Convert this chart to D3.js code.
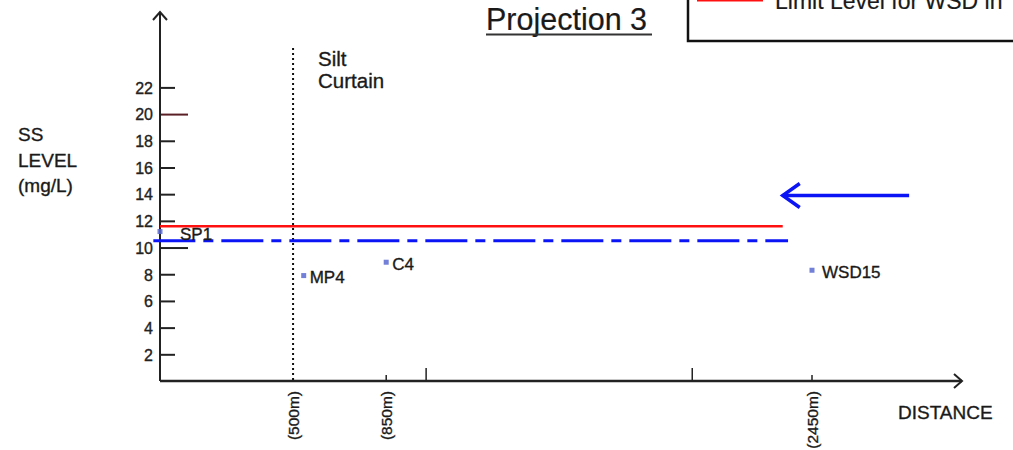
<!DOCTYPE html>
<html>
<head>
<meta charset="utf-8">
<script src="https://cdn.jsdelivr.net/npm/d3@7"></script>
<style>
  body { margin: 0; background: #fff; }
  svg { display: block; font-family: "Liberation Sans", Arial, sans-serif; }
  text { fill: #1a1a1a; stroke: #1a1a1a; stroke-width: 0.35px; }
</style>
</head>
<body>
<svg id="chart" width="1013" height="450"></svg>
<script>
(function (d3) {
    'use strict';

    // monitoring stations
    var stations = ['SP1', 'MP4', 'C4', 'WSD15'];
    var distances = [0, 540, 850, 2450];
    var ssLevels = [11.2, 7.9, 8.9, 8.3];

    // axis ticks
    var yTicks = [2, 4, 6, 8, 10, 12, 14, 16, 18, 20, 22];
    var xTickValues = [850, 1000, 2000, 2450];
    var xTickLabels = ['(500m)', '(850m)', '(2450m)'];
    var xLabelValues = [500, 850, 2450];

    // reference levels (mg/L) and distance extents (m)
    var limitLevel = 11.6, limitRange = [0, 2340];
    var actionLevel = 10.5, actionRange = [-25, 2360];
    var siltCurtain = 500;
    var arrowLevel = 13.9, arrowRange = [2340, 2815];

    var x = d3.scaleLinear().domain([0, 2450]).range([160, 812]),
        y = d3.scaleLinear().domain([0, 22]).range([381, 87.4]);

    var svg = d3.select('#chart');

    // title
    svg.append('text')
        .attr('x', 486).attr('y', 30)
        .style('font-size', '30.5px')
        .style('stroke-width', '0.2px')
        .text('Projection 3');
    svg.append('line')
        .attr('x1', 486).attr('x2', 652).attr('y1', 34.5).attr('y2', 34.5)
        .style('stroke', '#333').style('stroke-width', 2);

    // legend box (cut off at top)
    svg.append('rect')
        .attr('x', 688).attr('y', -20).attr('width', 340).attr('height', 61)
        .style('fill', 'none').style('stroke', '#111').style('stroke-width', 2.5);
    svg.append('line')
        .attr('x1', 697).attr('x2', 763).attr('y1', 0).attr('y2', 0)
        .style('stroke', '#ff1010').style('stroke-width', 3);
    svg.append('text')
        .attr('x', 775).attr('y', 9)
        .style('font-size', '23px')
        .style('stroke-width', '0.2px')
        .text('Limit Level for WSD in');

    // y axis
    var yAxis = svg.append('g')
        .attr('transform', 'translate(160,0)')
        .call(d3.axisLeft(y).tickValues(yTicks).tickSize(-15).tickPadding(7));
    yAxis.select('.domain').remove();
    yAxis.selectAll('.tick line')
        .style('stroke', function (d) { return d === 20 ? '#5a1f24' : '#222'; })
        .style('stroke-width', 2)
        .attr('x2', function (d) { return (d === 10 || d === 20) ? 28 : 15; });
    yAxis.selectAll('.tick text')
        .style('font-size', '16px')
        .style('fill', '#222')
        .style('stroke', '#222')
        .style('stroke-width', '0.35px')
        .attr('dy', '0.36em');

    svg.append('line')
        .attr('x1', 160).attr('x2', 160).attr('y1', 381).attr('y2', 12)
        .style('stroke', '#222').style('stroke-width', 2);
    svg.append('path')
        .attr('d', 'M153,20 L160,12 L167,20')
        .style('fill', 'none').style('stroke', '#222').style('stroke-width', 2);

    // x axis
    svg.append('line')
        .attr('x1', 160).attr('x2', 962).attr('y1', 381).attr('y2', 381)
        .style('stroke', '#222').style('stroke-width', 2.5);
    svg.append('path')
        .attr('d', 'M954,374 L962,381 L954,388')
        .style('fill', 'none').style('stroke', '#222').style('stroke-width', 2);

    svg.append('g').selectAll('line')
        .data(xTickValues)
        .enter().append('line')
        .attr('x1', function (d) { return x(d); })
        .attr('x2', function (d) { return x(d); })
        .attr('y1', 381)
        .attr('y2', function (d) { return (d === 1000 || d === 2000) ? 368 : 375; })
        .style('stroke', '#222').style('stroke-width', 1.5);

    svg.append('g').selectAll('text')
        .data(xLabelValues)
        .enter().append('text')
        .attr('transform', function (d) { return 'translate(' + (x(d) + 6) + ',391) rotate(-90)'; })
        .style('text-anchor', 'end')
        .style('font-size', '15.5px')
        .text(function (d, i) { return xTickLabels[i]; });

    // axis titles
    svg.append('g').selectAll('text')
        .data(['SS', 'LEVEL', '(mg/L)'])
        .enter().append('text')
        .attr('x', 18)
        .attr('y', function (d, i) { return 141 + i * 25.5; })
        .style('font-size', '19px')
        .text(function (d) { return d; });

    svg.append('text')
        .attr('x', 898).attr('y', 419)
        .style('font-size', '19px')
        .text('DISTANCE');

    // silt curtain
    svg.append('line')
        .attr('x1', x(siltCurtain)).attr('x2', x(siltCurtain))
        .attr('y1', 48).attr('y2', 381)
        .style('stroke', '#111').style('stroke-width', 2)
        .style('stroke-dasharray', '2,3');
    svg.append('g').selectAll('text')
        .data(['Silt', 'Curtain'])
        .enter().append('text')
        .attr('x', 318)
        .attr('y', function (d, i) { return 66 + i * 22; })
        .style('font-size', '20.5px')
        .text(function (d) { return d; });

    // reference lines
    svg.append('line')
        .attr('x1', x(limitRange[0])).attr('x2', x(limitRange[1]))
        .attr('y1', y(limitLevel)).attr('y2', y(limitLevel))
        .style('stroke', '#ff1010').style('stroke-width', 2.5);
    svg.append('line')
        .attr('x1', x(actionRange[0])).attr('x2', x(actionRange[1]))
        .attr('y1', y(actionLevel)).attr('y2', y(actionLevel))
        .style('stroke', '#0a14f5').style('stroke-width', 3)
        .style('stroke-dasharray', '42,8,10,8');

    // pointer arrow
    var ay = y(arrowLevel), ax = x(arrowRange[0]);
    svg.append('line')
        .attr('x1', x(arrowRange[1])).attr('x2', ax)
        .attr('y1', ay).attr('y2', ay)
        .style('stroke', '#0a14f5').style('stroke-width', 3.5);
    svg.append('path')
        .attr('d', 'M' + (ax + 17) + ',' + (ay - 12) + ' L' + ax + ',' + ay + ' L' + (ax + 17) + ',' + (ay + 12))
        .style('fill', 'none').style('stroke', '#0a14f5').style('stroke-width', 3.5);

    // station points
    var points = svg.append('g').selectAll('g')
        .data(stations)
        .enter().append('g')
        .attr('transform', function (d, i) { return 'translate(' + x(distances[i]) + ',' + y(ssLevels[i]) + ')'; });

    points.append('rect')
        .attr('x', -2.5).attr('y', -2.5).attr('width', 5).attr('height', 5)
        .style('fill', '#5a6ad0').style('opacity', 0.85);

    points.append('text')
        .attr('x', function (d) { return d === 'SP1' ? 20 : (d === 'WSD15' ? 10 : 6); })
        .attr('y', function (d) { return d === 'SP1' ? 8 : 7.5; })
        .style('font-size', '17px')
        .text(function (d) { return d; });
})(window.d3);
</script>
</body>
</html>
